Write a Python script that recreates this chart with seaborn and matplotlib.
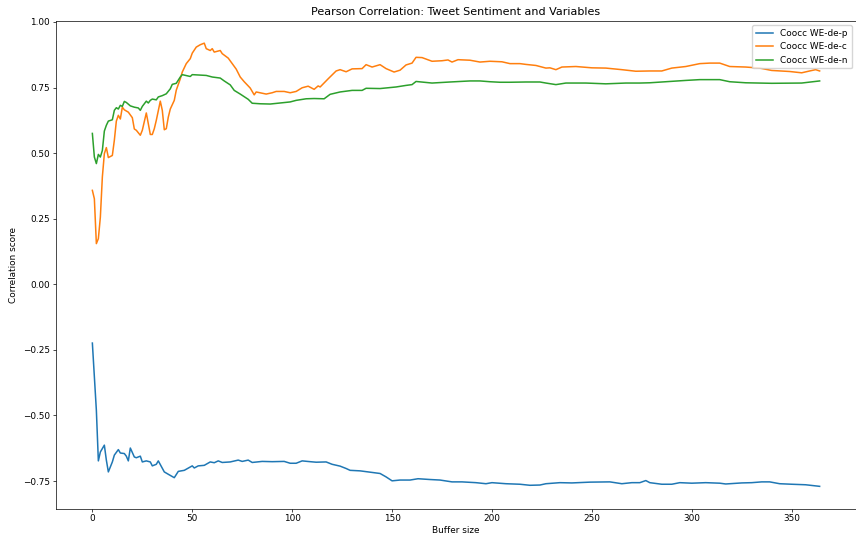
import numpy as np
import pandas as pd
import seaborn as sns
import matplotlib
matplotlib.use("Agg")
import matplotlib.pyplot as plt

# values (buffer size -> correlation)
p_x = [0, 2, 3, 4, 6, 7, 8, 10, 11, 13, 14, 16, 17, 18, 19, 21, 22, 24, 25, 27,
       29, 30, 32, 33, 36, 38, 41, 43, 46, 50, 51, 53, 56, 59, 61, 63, 65, 69, 73, 75,
       78, 80, 85, 90, 96, 99, 102, 105, 109, 112, 117, 120, 124, 127, 129, 134, 137, 144, 147, 150,
       154, 159, 163, 169, 174, 180, 185, 192, 197, 200, 207, 214, 219, 224, 227, 234, 240, 249, 259, 265,
       270, 274, 277, 279, 285, 290, 294, 300, 307, 314, 317, 325, 330, 335, 339, 344, 350, 357, 364]
p_y = [-0.224, -0.48, -0.673, -0.639, -0.613, -0.67, -0.715, -0.677, -0.651, -0.63,
       -0.643, -0.645, -0.655, -0.673, -0.624, -0.658, -0.661, -0.655, -0.677, -0.673,
       -0.677, -0.692, -0.686, -0.673, -0.715, -0.724, -0.737, -0.713, -0.709, -0.692,
       -0.70, -0.692, -0.69, -0.677, -0.68, -0.673, -0.679, -0.677, -0.67, -0.675,
       -0.67, -0.679, -0.675, -0.676, -0.675, -0.682, -0.682, -0.673, -0.676, -0.678,
       -0.677, -0.686, -0.693, -0.702, -0.709, -0.711, -0.714, -0.721, -0.734, -0.749,
       -0.746, -0.746, -0.741, -0.744, -0.746, -0.753, -0.753, -0.756, -0.76, -0.756,
       -0.76, -0.762, -0.766, -0.765, -0.76, -0.756, -0.757, -0.754, -0.753, -0.76,
       -0.756, -0.756, -0.748, -0.756, -0.762, -0.762, -0.756, -0.758, -0.756, -0.758,
       -0.761, -0.757, -0.756, -0.753, -0.753, -0.76, -0.762, -0.764, -0.77]

c_x = [0, 1, 2, 3, 4, 5, 6, 7, 8, 10, 11, 12, 13, 14, 15, 16, 18, 20, 21, 22,
       24, 25, 27, 28, 29, 30, 31, 32, 34, 35, 36, 37, 38, 39, 41, 42, 44, 45, 47, 49,
       50, 52, 54, 56, 57, 59, 60, 61, 64, 65, 68, 70, 72, 74, 76, 79, 81, 82, 87, 90,
       92, 94, 96, 99, 102, 105, 108, 111, 113, 114, 118, 122, 124, 127, 130, 135, 137, 140, 144, 147,
       151, 154, 157, 160, 162, 165, 170, 175, 178, 180, 183, 189, 194, 199, 205, 209, 214, 217, 222, 227,
       229, 232, 235, 242, 250, 257, 265, 272, 279, 285, 290, 297, 304, 309, 314, 319, 327, 334, 340, 349,
       355, 359, 362, 364]
c_y = [0.358, 0.326, 0.155, 0.174, 0.256, 0.409, 0.498, 0.521, 0.483, 0.491,
       0.549, 0.622, 0.644, 0.63, 0.675, 0.665, 0.656, 0.635, 0.592, 0.587,
       0.568, 0.587, 0.653, 0.612, 0.571, 0.571, 0.593, 0.625, 0.698, 0.663,
       0.589, 0.593, 0.637, 0.668, 0.701, 0.74, 0.783, 0.809, 0.841, 0.86,
       0.881, 0.904, 0.913, 0.919, 0.898, 0.891, 0.898, 0.885, 0.891, 0.879,
       0.862, 0.841, 0.82, 0.79, 0.772, 0.748, 0.722, 0.733, 0.725, 0.73,
       0.735, 0.735, 0.735, 0.73, 0.735, 0.749, 0.755, 0.743, 0.756, 0.752,
       0.783, 0.813, 0.818, 0.81, 0.821, 0.822, 0.837, 0.828, 0.837, 0.822,
       0.809, 0.816, 0.836, 0.843, 0.865, 0.864, 0.85, 0.852, 0.855, 0.847,
       0.856, 0.854, 0.847, 0.85, 0.848, 0.841, 0.841, 0.838, 0.834, 0.824,
       0.825, 0.818, 0.828, 0.83, 0.825, 0.824, 0.818, 0.812, 0.813, 0.813,
       0.824, 0.83, 0.841, 0.843, 0.843, 0.83, 0.828, 0.824, 0.815, 0.811,
       0.806, 0.813, 0.818, 0.813]

n_x = [0, 1, 2, 3, 4, 5, 6, 7, 8, 10, 11, 12, 13, 14, 15, 16, 17, 19, 21, 23,
       24, 25, 27, 28, 29, 30, 32, 33, 35, 37, 39, 40, 42, 44, 45, 49, 50, 57, 60, 64,
       66, 69, 71, 74, 78, 80, 84, 89, 94, 99, 102, 107, 111, 116, 119, 124, 130, 135, 137, 144,
       152, 157, 160, 162, 170, 179, 184, 189, 194, 199, 204, 209, 217, 224, 227, 232, 237, 247, 257, 267,
       274, 279, 287, 297, 304, 314, 319, 327, 340, 355, 364]
n_y = [0.575, 0.485, 0.46, 0.495, 0.485, 0.51, 0.584, 0.606, 0.622, 0.627,
       0.663, 0.673, 0.668, 0.682, 0.678, 0.697, 0.693, 0.68, 0.675, 0.672,
       0.663, 0.678, 0.698, 0.691, 0.701, 0.706, 0.703, 0.714, 0.719, 0.726,
       0.745, 0.762, 0.766, 0.79, 0.799, 0.792, 0.799, 0.796, 0.79, 0.786,
       0.775, 0.76, 0.739, 0.725, 0.705, 0.69, 0.688, 0.687, 0.691, 0.695,
       0.701, 0.707, 0.708, 0.707, 0.724, 0.733, 0.739, 0.739, 0.747, 0.746,
       0.752, 0.758, 0.761, 0.773, 0.767, 0.771, 0.773, 0.775, 0.775, 0.772,
       0.77, 0.77, 0.771, 0.771, 0.767, 0.761, 0.767, 0.767, 0.764, 0.767,
       0.767, 0.768, 0.772, 0.777, 0.78, 0.78, 0.772, 0.768, 0.766, 0.767,
       0.775]

labels = ["Coocc WE-de-p", "Coocc WE-de-c", "Coocc WE-de-n"]

fig = plt.figure(figsize=(8.56, 5.35), dpi=100)
ax = fig.add_axes([56 / 856, 26.5 / 535, 800 / 856, 487.5 / 535])

for xs, ys, lab in zip([p_x, c_x, n_x], [p_y, c_y, n_y], labels):
    sns.lineplot(x=xs, y=ys, label=lab, ax=ax, linewidth=1.1)

ax.set_title("Pearson Correlation: Tweet Sentiment and Variables", fontsize=8, pad=4)
ax.set_xlabel("Buffer size", fontsize=6.4, labelpad=2)
ax.set_ylabel("Correlation score", fontsize=6.4, labelpad=4)
ax.tick_params(labelsize=6.4, length=2.2, width=0.5, pad=2)
for s in ax.spines.values():
    s.set_linewidth(0.5)
ax.legend(loc="upper right", fontsize=6.4)

fig.savefig("out.png", dpi=100)
